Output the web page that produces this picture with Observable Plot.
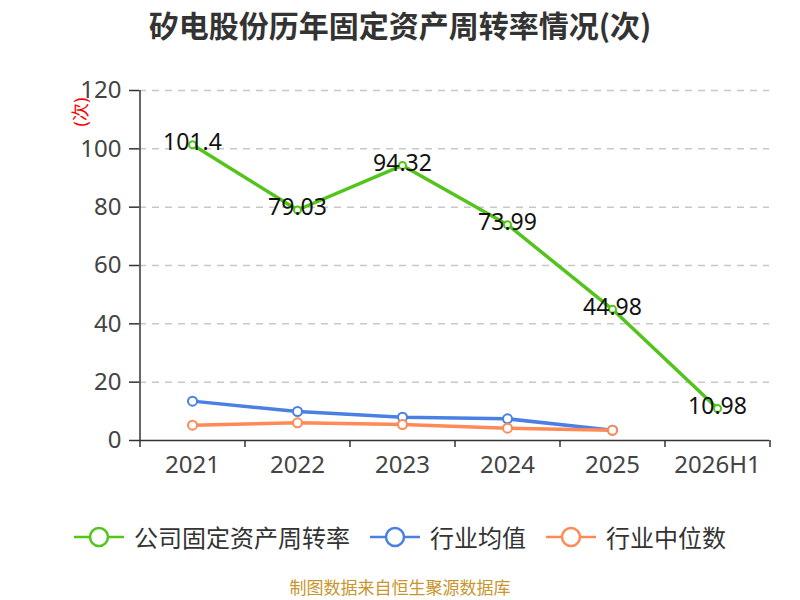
<!DOCTYPE html>
<html>
<head>
<meta charset="utf-8">
<script src="https://cdn.jsdelivr.net/npm/d3@7"></script>
<script src="https://cdn.jsdelivr.net/npm/@observablehq/plot@0.6"></script>
<style>
  body { margin: 0; background: #fff; }
  #wrap { position: relative; width: 800px; height: 600px; overflow: hidden; font-family: "Noto Sans CJK SC", "Noto Sans", sans-serif; }
  #title { position: absolute; top: 2px; left: 0; width: 800px; text-align: center; font-size: 30px; font-weight: bold; color: #333; line-height: 44px; }
  #chart { position: absolute; top: 60px; left: 0; }
  #legend { position: absolute; top: 518px; left: 0; width: 800px; display: flex; justify-content: center; align-items: center; gap: 20px; font-size: 24px; color: #333; line-height: 38px; }
  .item { display: flex; align-items: center; gap: 10px; }
  #caption { position: absolute; top: 576px; left: 0; width: 800px; text-align: center; font-size: 17px; color: #c8952e; line-height: 22px; }
</style>
</head>
<body>
<div id="wrap">
  <div id="title">矽电股份历年固定资产周转率情况(次)</div>
  <div id="chart"></div>
  <div id="legend"></div>
  <div id="caption">制图数据来自恒生聚源数据库</div>
</div>
<script>
const years = ["2021", "2022", "2023", "2024", "2025", "2026H1"];
const companyValues = [101.4, 79.03, 94.32, 73.99, 44.98, 10.98];
const industryYears = ["2021", "2022", "2023", "2024", "2025"];
const industryAvg = [13.5, 9.94, 8.0, 7.43, 3.53];
const industryMedian = [5.25, 6.07, 5.49, 4.22, 3.5];
const yTicks = [0, 20, 40, 60, 80, 100, 120];
const seriesNames = ["公司固定资产周转率", "行业均值", "行业中位数"];
const colors = ["#52c41a", "#4a7fe3", "#ff8a56"];
const yUnit = "(次)";

const company = years.map((y, i) => ({year: y, value: companyValues[i]}));
const avg = industryYears.map((y, i) => ({year: y, value: industryAvg[i]}));
const med = industryYears.map((y, i) => ({year: y, value: industryMedian[i]}));

const W = 800, H = 440, ML = 139, MR = 31, MT = 30, MB = 60;
const step = (W - ML - MR) / years.length;

const chart = Plot.plot({
  width: W, height: H,
  marginLeft: ML, marginRight: MR, marginTop: MT, marginBottom: MB,
  style: {fontFamily: "'Noto Sans', 'Noto Sans CJK SC', sans-serif", background: "white", color: "#333", overflow: "visible"},
  x: {type: "point", domain: years, padding: 0.5},
  y: {domain: [0, 120]},
  marks: [
    Plot.gridY(yTicks.filter(d => d > 0), {stroke: "#c8c8c8", strokeOpacity: 1, strokeWidth: 1.5, strokeDasharray: "7,6"}),
    Plot.axisY(yTicks, {tickSize: 10, tickPadding: 8, fontSize: 24, label: null, stroke: "#333", strokeWidth: 1.5, fill: "#444"}),
    Plot.ruleX([years[0]], {dx: -step / 2, stroke: "#333", strokeWidth: 1.5}),
    Plot.ruleY([0], {stroke: "#333", strokeWidth: 1.5}),
    Plot.axisX({ticks: years, text: null, tickSize: 7, dx: -step / 2, stroke: "#333", strokeWidth: 1.5, label: null}),
    Plot.axisX({ticks: [years[years.length - 1]], text: null, tickSize: 7, dx: step / 2, stroke: "#333", strokeWidth: 1.5, label: null}),
    Plot.axisX({ticks: years, tickSize: 0, tickPadding: 15, fontSize: 24, fill: "#444", label: null}),
    Plot.text([yUnit], {frameAnchor: "top-left", dx: -65, dy: 36, rotate: -90, fill: "red", fontSize: 18}),
    Plot.line(avg, {x: "year", y: "value", stroke: colors[1], strokeWidth: 3.5}),
    Plot.line(med, {x: "year", y: "value", stroke: colors[2], strokeWidth: 3.5}),
    Plot.line(company, {x: "year", y: "value", stroke: colors[0], strokeWidth: 3.5}),
    Plot.dot(avg, {x: "year", y: "value", r: 4.5, fill: "white", stroke: colors[1], strokeWidth: 2}),
    Plot.dot(med, {x: "year", y: "value", r: 4.5, fill: "white", stroke: colors[2], strokeWidth: 2}),
    Plot.dot(company, {x: "year", y: "value", r: 3.5, fill: "white", stroke: colors[0], strokeWidth: 2}),
    Plot.text(company, {x: "year", y: "value", text: d => String(d.value), fontSize: 23, fill: "#111", dy: -2})
  ]
});
document.getElementById("chart").appendChild(chart);

const legend = document.getElementById("legend");
seriesNames.forEach((name, i) => {
  const item = document.createElement("div");
  item.className = "item";
  item.innerHTML = `<svg width="50" height="24" viewBox="0 0 50 24"><line x1="0" y1="12" x2="50" y2="12" stroke="${colors[i]}" stroke-width="2.5"/><circle cx="25" cy="12" r="9" fill="white" stroke="${colors[i]}" stroke-width="2.5"/></svg><span>${name}</span>`;
  legend.appendChild(item);
});
</script>
</body>
</html>
